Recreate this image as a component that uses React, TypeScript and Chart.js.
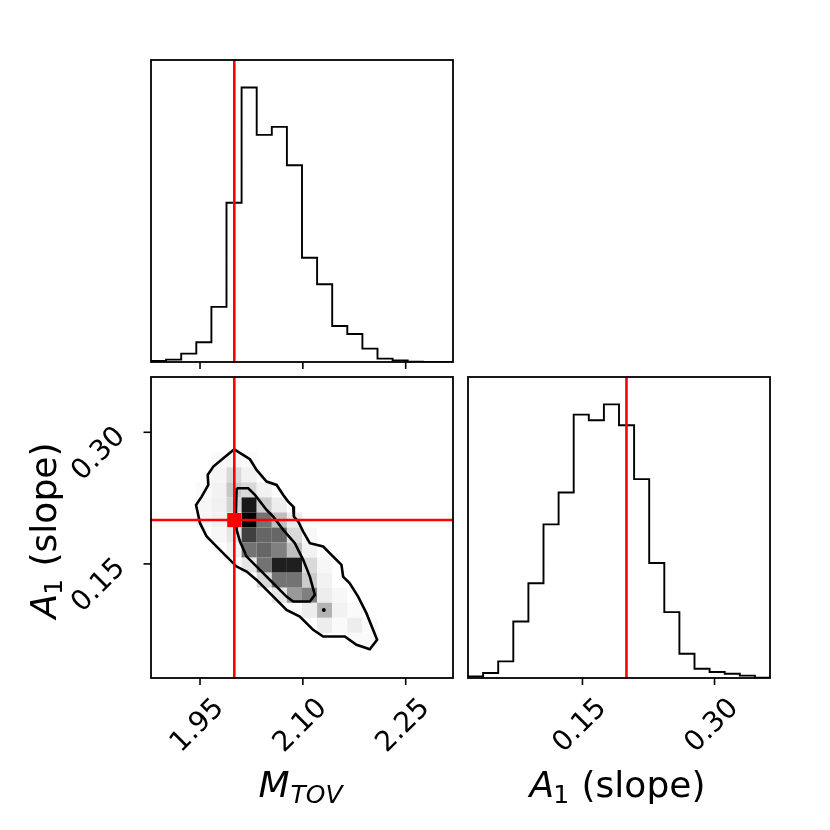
import React, { useEffect, useRef } from "react";
import { Chart, registerables } from "chart.js";
Chart.register(...registerables);

// ---------- data ----------
const M_TOV_RANGE = [1.8785, 2.319];
const A1_RANGE = [0.02, 0.363];
const M_TOV_TRUTH = 2.0;
const A1_TRUTH = 0.2;
const M_TOV_TICKS = [1.95, 2.1, 2.25];
const M_TOV_TICK_LABELS = ["1.95", "2.10", "2.25"];
const A1_TICKS = [0.15, 0.3];
const A1_TICK_LABELS = ["0.15", "0.30"];

const M_TOV_COUNTS = [3, 7, 25, 59, 165, 477, 822, 680, 704, 589, 312, 233, 108, 84, 40, 10, 5, 1, 0, 0];
const A1_COUNTS = [5, 15, 50, 170, 285, 462, 558, 792, 775, 823, 760, 598, 346, 198, 73, 28, 18, 13, 7, 1];

// 2D density (darkness 0..100), rows from top (highest A1) to bottom, 20 columns each
const DENSITY_ROWS = [
  [0, 0, 0, 0, 0, 0, 0, 0, 0, 0, 0, 0, 0, 0, 0, 0, 0, 0, 0, 0],
  [0, 0, 0, 0, 0, 0, 0, 0, 0, 0, 0, 0, 0, 0, 0, 0, 0, 0, 0, 0],
  [0, 0, 0, 0, 0, 0, 0, 0, 0, 0, 0, 0, 0, 0, 0, 0, 0, 0, 0, 0],
  [0, 0, 0, 0, 0, 0, 0, 0, 0, 0, 0, 0, 0, 0, 0, 0, 0, 0, 0, 0],
  [0, 0, 0, 0, 0, 0, 0, 0, 0, 0, 0, 0, 0, 0, 0, 0, 0, 0, 0, 0],
  [0, 0, 0, 0, 2, 4, 2, 0, 0, 0, 0, 0, 0, 0, 0, 0, 0, 0, 0, 0],
  [0, 0, 0, 0, 4, 15, 5, 0, 0, 0, 0, 0, 0, 0, 0, 0, 0, 0, 0, 0],
  [0, 0, 0, 2, 5, 22, 15, 5, 0, 0, 0, 0, 0, 0, 0, 0, 0, 0, 0, 0],
  [0, 0, 0, 3, 6, 18, 90, 20, 7, 0, 0, 0, 0, 0, 0, 0, 0, 0, 0, 0],
  [0, 0, 0, 3, 5, 12, 100, 55, 25, 8, 0, 0, 0, 0, 0, 0, 0, 0, 0, 0],
  [0, 0, 0, 0, 3, 10, 75, 60, 60, 15, 3, 0, 0, 0, 0, 0, 0, 0, 0, 0],
  [0, 0, 0, 0, 0, 5, 55, 60, 50, 25, 5, 0, 0, 0, 0, 0, 0, 0, 0, 0],
  [0, 0, 0, 0, 0, 0, 10, 55, 88, 88, 15, 3, 0, 0, 0, 0, 0, 0, 0, 0],
  [0, 0, 0, 0, 0, 0, 0, 15, 55, 55, 20, 5, 0, 0, 0, 0, 0, 0, 0, 0],
  [0, 0, 0, 0, 0, 0, 0, 0, 10, 40, 50, 7, 3, 0, 0, 0, 0, 0, 0, 0],
  [0, 0, 0, 0, 0, 0, 0, 0, 0, 0, 7, 30, 5, 2, 0, 0, 0, 0, 0, 0],
  [0, 0, 0, 0, 0, 0, 0, 0, 0, 0, 0, 7, 2, 7, 2, 0, 0, 0, 0, 0],
  [0, 0, 0, 0, 0, 0, 0, 0, 0, 0, 0, 0, 0, 2, 2, 0, 0, 0, 0, 0],
  [0, 0, 0, 0, 0, 0, 0, 0, 0, 0, 0, 0, 0, 0, 0, 0, 0, 0, 0, 0],
  [0, 0, 0, 0, 0, 0, 0, 0, 0, 0, 0, 0, 0, 0, 0, 0, 0, 0, 0, 0],
];

const OUTER_M = [2.0, 2.0228, 2.0325, 2.0471, 2.0617, 2.0714, 2.0786, 2.0859, 2.0869, 2.0932, 2.1005, 2.1102, 2.1296, 2.1417, 2.1563, 2.1587, 2.1684, 2.1806, 2.1927, 2.2083, 2.1976, 2.1782, 2.1612, 2.149, 2.1296, 2.115, 2.0956, 2.0762, 2.0617, 2.0471, 2.0325, 2.018, 2.0034, 1.9888, 1.9743, 1.9597, 1.95, 1.9442, 1.9524, 1.9621, 1.9612, 1.9694, 1.984];
const OUTER_A1 = [0.2806, 0.2693, 0.2571, 0.2438, 0.24, 0.2286, 0.221, 0.2153, 0.2039, 0.1983, 0.1869, 0.1736, 0.1698, 0.1603, 0.1489, 0.1356, 0.128, 0.1128, 0.0939, 0.0635, 0.0528, 0.0578, 0.0673, 0.0673, 0.0673, 0.0749, 0.0901, 0.0976, 0.109, 0.1204, 0.1318, 0.1413, 0.147, 0.1584, 0.1698, 0.1812, 0.1964, 0.2172, 0.2267, 0.24, 0.2514, 0.2609, 0.2704];
const INNER_M = [2.0034, 2.0204, 2.0301, 2.0471, 2.0568, 2.0714, 2.0883, 2.1005, 2.1102, 2.1175, 2.1102, 2.0859, 2.0762, 2.0568, 2.0374, 2.018, 2.0083, 2.0034, 2.0024];
const INNER_A1 = [0.2362, 0.2362, 0.2286, 0.2115, 0.2039, 0.1888, 0.1736, 0.1546, 0.1356, 0.1147, 0.1071, 0.1071, 0.1128, 0.128, 0.1432, 0.1584, 0.1755, 0.1888, 0.2115];
const DOT_M = [2.1306];
const DOT_A1 = [0.0976];

// ---------- helpers ----------
const W = 830;
const FONT = '"DejaVu Sans", "Liberation Sans", sans-serif';
const TICK_FONT = `28px ${FONT}`;

function stepPoints(counts: number[], range: number[]) {
  const w = (range[1] - range[0]) / counts.length;
  const pts: { x: number; y: number }[] = [{ x: range[0], y: 0 }];
  counts.forEach((c, i) => {
    pts.push({ x: range[0] + i * w, y: c });
    pts.push({ x: range[0] + (i + 1) * w, y: c });
  });
  pts.push({ x: range[1], y: 0 });
  return pts;
}

function closed(xs: number[], ys: number[]) {
  const pts = xs.map((x, i) => ({ x, y: ys[i] }));
  pts.push({ ...pts[0] });
  return pts;
}

type Part = { text: string; font: string; dy: number; dx?: number };

function drawParts(ctx: CanvasRenderingContext2D, parts: Part[], cx: number, baseY: number) {
  let total = 0;
  const widths = parts.map((p) => {
    ctx.font = p.font;
    const w = ctx.measureText(p.text).width + (p.dx || 0);
    total += w;
    return w;
  });
  let x = cx - total / 2;
  ctx.textAlign = "left";
  ctx.textBaseline = "alphabetic";
  parts.forEach((p, i) => {
    ctx.font = p.font;
    ctx.fillText(p.text, x + (p.dx || 0), baseY + p.dy);
    x += widths[i];
  });
}

function drawRotated(ctx: CanvasRenderingContext2D, text: string, cx: number, cy: number) {
  ctx.save();
  ctx.translate(cx, cy);
  ctx.rotate(-Math.PI / 4);
  ctx.font = TICK_FONT;
  ctx.textAlign = "center";
  ctx.textBaseline = "middle";
  ctx.fillStyle = "#000";
  ctx.fillText(text, 0, 0);
  ctx.restore();
}

type DecorOpts = {
  xTicks: number[];
  xLabels?: string[];
  yTicks?: number[];
  yLabels?: string[];
  xTitle?: Part[];
  yTitle?: Part[];
  cells?: { rows: number[][]; xr: number[]; yr: number[] };
};

function decorPlugin(o: DecorOpts) {
  return {
    id: "decor",
    beforeDatasetsDraw(chart: any) {
      if (!o.cells) return;
      const ctx = chart.ctx as CanvasRenderingContext2D;
      const { rows, xr, yr } = o.cells;
      const nr = rows.length;
      const nc = rows[0].length;
      const sx = chart.scales.x;
      const sy = chart.scales.y;
      ctx.save();
      rows.forEach((row, r) => {
        const j = nr - 1 - r;
        const y0 = yr[0] + (j * (yr[1] - yr[0])) / nr;
        const y1 = yr[0] + ((j + 1) * (yr[1] - yr[0])) / nr;
        row.forEach((v, i) => {
          if (!v) return;
          const x0 = xr[0] + (i * (xr[1] - xr[0])) / nc;
          const x1 = xr[0] + ((i + 1) * (xr[1] - xr[0])) / nc;
          const g = Math.round(255 * (1 - v / 100));
          ctx.fillStyle = `rgb(${g},${g},${g})`;
          const px0 = sx.getPixelForValue(x0);
          const px1 = sx.getPixelForValue(x1);
          const py0 = sy.getPixelForValue(y0);
          const py1 = sy.getPixelForValue(y1);
          ctx.fillRect(px0, py1, px1 - px0, py0 - py1);
        });
      });
      ctx.restore();
    },
    afterDatasetsDraw(chart: any) {
      const ctx = chart.ctx as CanvasRenderingContext2D;
      const a = chart.chartArea;
      const sx = chart.scales.x;
      const sy = chart.scales.y;
      ctx.save();
      ctx.strokeStyle = "#000";
      ctx.lineWidth = 1.8;
      ctx.strokeRect(a.left, a.top, a.right - a.left, a.bottom - a.top);
      ctx.lineWidth = 1.6;
      o.xTicks.forEach((v, i) => {
        const px = sx.getPixelForValue(v);
        ctx.beginPath();
        ctx.moveTo(px, a.bottom);
        ctx.lineTo(px, a.bottom + 7);
        ctx.stroke();
        if (o.xLabels) drawRotated(ctx, o.xLabels[i], px - 2.3, a.bottom + 48);
      });
      (o.yTicks || []).forEach((v, i) => {
        const py = sy.getPixelForValue(v);
        ctx.beginPath();
        ctx.moveTo(a.left, py);
        ctx.lineTo(a.left - 7.5, py);
        ctx.stroke();
        if (o.yLabels) drawRotated(ctx, o.yLabels[i], a.left - 52, py + 22);
      });
      ctx.fillStyle = "#000";
      if (o.xTitle) drawParts(ctx, o.xTitle, (a.left + a.right) / 2 - 1.5, a.bottom + 119);
      if (o.yTitle) {
        ctx.save();
        ctx.translate(a.left - 95, (a.top + a.bottom) / 2 + 3);
        ctx.rotate(-Math.PI / 2);
        drawParts(ctx, o.yTitle, 0, 0);
        ctx.restore();
      }
      ctx.restore();
    },
  };
}

const A1_TITLE: Part[] = [
  { text: "A", font: `italic 36px ${FONT}`, dy: 0 },
  { text: "1", font: `25px ${FONT}`, dy: 6, dx: -1 },
  { text: " (slope)", font: `36px ${FONT}`, dy: 0, dx: 1 },
];
const M_TITLE: Part[] = [
  { text: "M", font: `italic 36px ${FONT}`, dy: 0 },
  { text: "TOV", font: `italic 25px ${FONT}`, dy: 6, dx: 1 },
];

function lineDs(data: any[], color: string, width: number, order: number) {
  return {
    type: "scatter",
    data,
    showLine: true,
    borderColor: color,
    borderWidth: width,
    pointRadius: 0,
    tension: 0,
    fill: false,
    order,
  };
}

function baseOptions(padding: any, xr: number[], yr: number[]) {
  return {
    responsive: false,
    animation: false,
    devicePixelRatio: 1,
    layout: { padding },
    events: [],
    plugins: { legend: { display: false }, tooltip: { enabled: false } },
    scales: {
      x: { type: "linear", display: false, min: xr[0], max: xr[1] },
      y: { type: "linear", display: false, min: yr[0], max: yr[1] },
    },
  };
}

function buildTopLeft() {
  const ymax = Math.max(...M_TOV_COUNTS) * 1.1;
  return {
    type: "scatter",
    data: {
      datasets: [
        lineDs([{ x: M_TOV_TRUTH, y: 0 }, { x: M_TOV_TRUTH, y: ymax }], "#ff0000", 2.6, 1),
        lineDs(stepPoints(M_TOV_COUNTS, M_TOV_RANGE), "#000", 1.9, 2),
      ],
    },
    options: baseOptions({ left: 151, top: 60, right: W - 453, bottom: W - 362 }, M_TOV_RANGE, [0, ymax]),
    plugins: [decorPlugin({ xTicks: M_TOV_TICKS })],
  };
}

function buildBottomRight() {
  const ymax = Math.max(...A1_COUNTS) * 1.1;
  return {
    type: "scatter",
    data: {
      datasets: [
        lineDs([{ x: A1_TRUTH, y: 0 }, { x: A1_TRUTH, y: ymax }], "#ff0000", 2.6, 1),
        lineDs(stepPoints(A1_COUNTS, A1_RANGE), "#000", 1.9, 2),
      ],
    },
    options: baseOptions({ left: 468, top: 377, right: W - 770, bottom: W - 678 }, A1_RANGE, [0, ymax]),
    plugins: [
      decorPlugin({ xTicks: A1_TICKS, xLabels: A1_TICK_LABELS, xTitle: A1_TITLE }),
    ],
  };
}

function buildBottomLeft() {
  return {
    type: "scatter",
    data: {
      datasets: [
        {
          type: "scatter",
          data: [{ x: M_TOV_TRUTH, y: A1_TRUTH }],
          pointStyle: "rect",
          pointRadius: 10,
          backgroundColor: "#ff0000",
          borderWidth: 0,
          order: 0,
        },
        lineDs([{ x: M_TOV_TRUTH, y: A1_RANGE[0] }, { x: M_TOV_TRUTH, y: A1_RANGE[1] }], "#ff0000", 2.6, 1),
        lineDs([{ x: M_TOV_RANGE[0], y: A1_TRUTH }, { x: M_TOV_RANGE[1], y: A1_TRUTH }], "#ff0000", 2.6, 1),
        lineDs(closed(OUTER_M, OUTER_A1), "#000", 2.6, 2),
        lineDs(closed(INNER_M, INNER_A1), "#000", 2.6, 2),
        {
          type: "scatter",
          data: DOT_M.map((x, i) => ({ x, y: DOT_A1[i] })),
          pointRadius: 2,
          backgroundColor: "#000",
          borderWidth: 0,
          order: 2,
        },
      ],
    },
    options: baseOptions({ left: 151, top: 377, right: W - 453, bottom: W - 678 }, M_TOV_RANGE, A1_RANGE),
    plugins: [
      decorPlugin({
        xTicks: M_TOV_TICKS,
        xLabels: M_TOV_TICK_LABELS,
        yTicks: A1_TICKS,
        yLabels: A1_TICK_LABELS,
        xTitle: M_TITLE,
        yTitle: A1_TITLE,
        cells: { rows: DENSITY_ROWS, xr: M_TOV_RANGE, yr: A1_RANGE },
      }),
    ],
  };
}

function ChartCanvas({ build }: { build: () => any }) {
  const ref = useRef<HTMLCanvasElement>(null);
  useEffect(() => {
    const chart = new Chart(ref.current as HTMLCanvasElement, build());
    return () => chart.destroy();
  }, []);
  return (
    <canvas
      ref={ref}
      width={W}
      height={W}
      style={{ position: "absolute", left: 0, top: 0, width: W, height: W }}
    />
  );
}

export default function App() {
  return (
    <div style={{ position: "fixed", left: 0, top: 0, width: W, height: W, background: "#fff" }}>
      <ChartCanvas build={buildTopLeft} />
      <ChartCanvas build={buildBottomLeft} />
      <ChartCanvas build={buildBottomRight} />
    </div>
  );
}
